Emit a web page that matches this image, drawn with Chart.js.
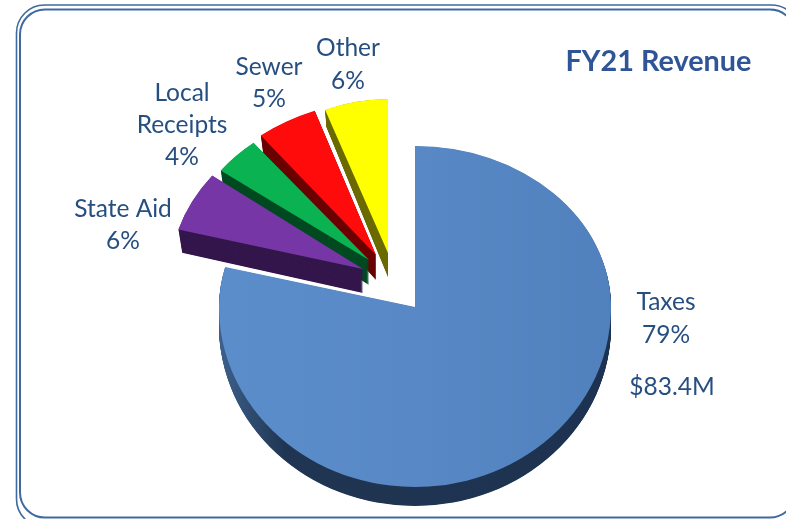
<!DOCTYPE html>
<html><head><meta charset="utf-8">
<style>
html,body{margin:0;padding:0;background:#fff;overflow:hidden}
#wrap{position:relative;width:786px;height:519px;overflow:hidden}
canvas{position:absolute;left:0;top:0}
</style>
<script src="https://cdn.jsdelivr.net/npm/chart.js@4"></script>
</head><body>
<div id="wrap"><canvas id="c" width="786" height="519"></canvas></div>
<script>
const categories = ['Taxes','State Aid','Local Receipts','Sewer','Other'];
const revenueShare = [79,6,4,5,6];
const chartTitle = 'FY21 Revenue';
const topColors = ['#5587c4','#7636a6','#0bb252','#ff0b0b','#ffff00'];
const sideColors = ['#1e3450','#34174c','#004a22','#6b0000','#6b6b00'];
// slice pose: explode shift, ellipse stretch (far half, near half), shear, extrusion depth, depth taper
const poseDx = [0,-52,-46,-39,-27];
const poseDy = [-8,-46,-55,-60,-62];
const poseSx = [1.153,1.135,1.097,1.141,1.006];
const poseSyFar = [0.947,0.935,0.895,0.912,0.906];
const poseSyNear = [1.059,0.935,0.895,0.912,0.906];
const poseSkewX = [0,-0.053,-0.026,-0.064,0];
const poseDepth = [19,24,25,25,24];
const poseTaper = [0,0.02,0.04,0.05,0.05];
const drawOrder = [0,4,3,2,1];
const labelLines = [
  ['Taxes',666,302],['79%',666,335],['$83.4M',672,387],
  ['State Aid',123,209],['6%',123,241],
  ['Local',182,93],['Receipts',182,125],['4%',182,157],
  ['Sewer',269,67],['5%',269,99],
  ['Other',348,48],['6%',348,81]
];
const canvas = document.getElementById('c');
const g = canvas.getContext('2d');
const taxGrad = g.createLinearGradient(220,0,612,0);
taxGrad.addColorStop(0,'#5b8ecb');taxGrad.addColorStop(0.5,'#5889c6');taxGrad.addColorStop(1,'#4f80bc');
const taxSide = g.createLinearGradient(225,0,612,0);
taxSide.addColorStop(0,'#48709f');taxSide.addColorStop(0.2,'#1f3552');taxSide.addColorStop(1,'#1c3250');
const fills = topColors.slice(); fills[0] = taxGrad;
const sides = sideColors.slice(); sides[0] = taxSide;

function frame(c){
  c.save();
  c.strokeStyle='#3f6a9f';
  c.lineWidth=1.6;
  c.beginPath();c.roundRect(16.5,5,783,522,28);c.stroke();
  c.lineWidth=2;
  c.beginPath();c.roundRect(20,9.5,775,508,25);c.stroke();
  c.restore();
}
function paintSlice(c,a,i,d){
  const D = poseDepth[i], t = d/D;
  const cy = a.y+poseDy[i]+d;
  const halves = poseSyFar[i]===poseSyNear[i]
    ? [[poseSyFar[i],-1000,2000]]
    : [[poseSyFar[i],-1000,1000.4],[poseSyNear[i],0,1000]];
  halves.forEach(h=>{
    c.save();
    c.beginPath();c.rect(0,cy+h[1],786,h[2]);c.clip();
    c.translate(a.x+poseDx[i],cy);
    c.transform(poseSx[i]*(1-0.02*t*(i?1:0)),0,poseSkewX[i],h[0]*(1+poseTaper[i]*t),0,0);
    c.translate(-a.x,-a.y);
    if(d===0){
      a.draw(c);
    }else{
      c.fillStyle=sides[i];
      c.beginPath();
      c.moveTo(a.x,a.y);
      c.arc(a.x,a.y,a.outerRadius,a.startAngle,a.endAngle);
      c.closePath();c.fill();
    }
    c.restore();
  });
}
const pie3d = {
  id:'pie3d',
  beforeDraw(chart){ frame(chart.ctx); },
  beforeDatasetDraw(chart,args){
    const c = chart.ctx, arcs = args.meta.data;
    drawOrder.forEach(i=>{
      for(let d=poseDepth[i];d>=0;d-=0.5) paintSlice(c,arcs[i],i,d);
    });
    return false;
  },
  afterDraw(chart){
    const c = chart.ctx;
    c.save();
    c.textAlign='center';c.textBaseline='middle';
    c.fillStyle='#264f80';c.font='24.5px Lato';
    labelLines.forEach(l=>c.fillText(l[0],l[1],l[2]));
    c.fillStyle='#2f5597';c.font='bold 28.8px Lato';
    c.fillText(chartTitle,658.5,62);
    c.restore();
  }
};
new Chart(canvas,{
  type:'pie',
  data:{labels:categories,datasets:[{data:revenueShare,backgroundColor:fills,borderWidth:0}]},
  options:{
    responsive:false,animation:false,
    layout:{padding:{left:245,right:201,top:145,bottom:34}},
    plugins:{legend:{display:false},tooltip:{enabled:false}}
  },
  plugins:[pie3d]
});
</script>
</body></html>
